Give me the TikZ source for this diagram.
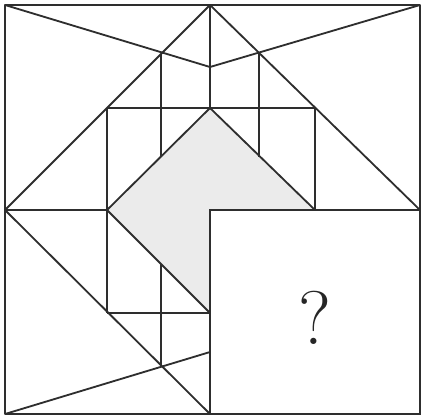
\documentclass[tikz,border=0pt]{standalone}
\usetikzlibrary{calc}

\begin{document}
\begin{tikzpicture}[
  x=0.025cm,y=-0.025cm,
  line/.style={draw=black!82,line width=1.3pt,line join=round},
  shaded/.style={fill=black!8},
  qbox/.style={draw=black!82,fill=white,line width=1.3pt},
  qmark/.style={font=\fontsize{54}{58}\selectfont,text=black!85},
]
\useasboundingbox (0,0) rectangle (425,417);

\coordinate (tm) at (210,5);
\coordinate (lm) at (5,210);
\coordinate (rm) at (420,210);
\coordinate (bm) at (210,414);
\coordinate (cc) at (210,210);

% shaded arrow head
\fill[shaded] (210,108) -- (315,210) -- (210,210) -- (210,313) -- (107,210) -- cycle;

\draw[line] (5,5) rectangle (420,414);

% top part
\draw[line] (5,5) -- (210,67) -- (420,5);
\draw[line] (lm) -- (tm) -- (rm);
\draw[line] (tm) -- (210,108);
\draw[line] (107,108) -- (315,108);
\draw[line] (161,54) -- (161,157);
\draw[line] (259,53) -- (259,157);
\draw[line] (107,108) -- (107,313);
\draw[line] (315,108) -- (315,210);

% middle
\draw[line] (lm) -- (107,210);
\draw[line] (315,210) -- (210,108) -- (107,210) -- (210,313);

% bottom part
\draw[line] (lm) -- (bm);
\draw[line] (5,414) -- (210,352);
\draw[line] (107,313) -- (210,313);
\draw[line] (161,264) -- (161,366);

\draw[qbox] (cc) rectangle (420,414);
\node[qmark] (q) at (315,318) {?};

\end{tikzpicture}
\end{document}
